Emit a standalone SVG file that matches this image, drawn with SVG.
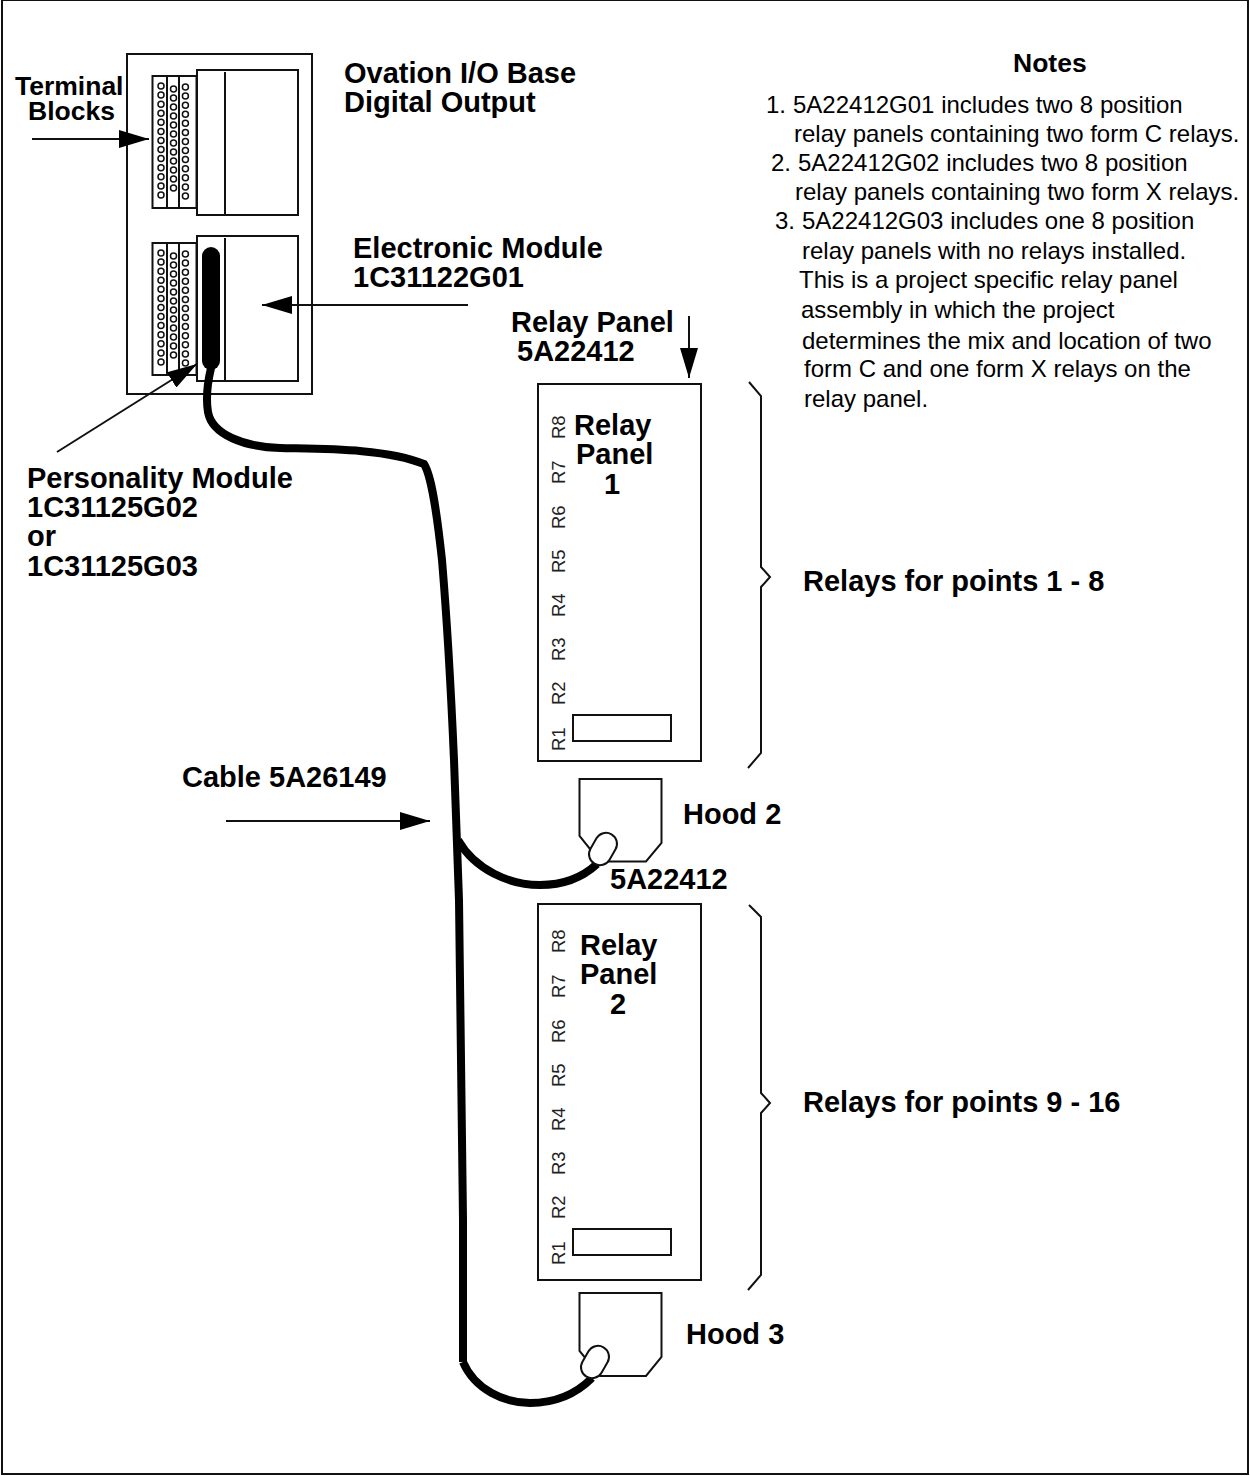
<svg xmlns="http://www.w3.org/2000/svg" width="1250" height="1476" viewBox="0 0 1250 1476">
<style>
.b{font:bold 29px "Liberation Sans",Arial,sans-serif;fill:#000}
.k{font:bold 26.500px "Liberation Sans",Arial,sans-serif;fill:#000}
.n{font:24px "Liberation Sans",Arial,sans-serif;fill:#000}
.r{font:18.500px "Liberation Sans",Arial,sans-serif;fill:#222}
.s{fill:#fff;stroke:#111;stroke-width:2}
.l{fill:none;stroke:#111;stroke-width:2}
.c{fill:none;stroke:#000;stroke-width:8}
.t{fill:none;stroke:#111;stroke-width:1.500}
</style>
<defs>
<marker id="a" markerUnits="userSpaceOnUse" markerWidth="30" markerHeight="18" refX="30" refY="9" orient="auto"><path d="M0 0L30 9L0 18z" fill="#000"/></marker>
<g id="holes">
<rect class="s" x="152.500" y="0" width="44" height="132"/>
<path class="l" d="M167 0V132M179 0V132"/>
<g class="t">
<circle cx="161" cy="10" r="3"/><circle cx="161" cy="19" r="3"/><circle cx="161" cy="28.200" r="3"/><circle cx="161" cy="37.300" r="3"/><circle cx="161" cy="46.300" r="3"/><circle cx="161" cy="55.400" r="3"/><circle cx="161" cy="64.500" r="3"/><circle cx="161" cy="73.600" r="3"/><circle cx="161" cy="82.600" r="3"/><circle cx="161" cy="91.700" r="3"/><circle cx="161" cy="100.800" r="3"/><circle cx="161" cy="109.900" r="3"/><circle cx="161" cy="119" r="3"/>
<circle cx="173.500" cy="13" r="3"/><circle cx="173.500" cy="22" r="3"/><circle cx="173.500" cy="31" r="3"/><circle cx="173.500" cy="40" r="3"/><circle cx="173.500" cy="49" r="3"/><circle cx="173.500" cy="58" r="3"/><circle cx="173.500" cy="67" r="3"/><circle cx="173.500" cy="76" r="3"/><circle cx="173.500" cy="85" r="3"/><circle cx="173.500" cy="94" r="3"/><circle cx="173.500" cy="103" r="3"/><circle cx="173.500" cy="112" r="3"/>
<circle cx="185.400" cy="11" r="3"/><circle cx="185.400" cy="20" r="3"/><circle cx="185.400" cy="29.200" r="3"/><circle cx="185.400" cy="38.300" r="3"/><circle cx="185.400" cy="47.300" r="3"/><circle cx="185.400" cy="56.400" r="3"/><circle cx="185.400" cy="65.500" r="3"/><circle cx="185.400" cy="74.600" r="3"/><circle cx="185.400" cy="83.600" r="3"/><circle cx="185.400" cy="92.700" r="3"/><circle cx="185.400" cy="101.800" r="3"/><circle cx="185.400" cy="110.900" r="3"/><circle cx="185.400" cy="120" r="3"/>
</g>
</g>
<g id="labels">
<text class="r" transform="translate(565,751) rotate(-90)">R1</text>
<text class="r" transform="translate(565,705) rotate(-90)">R2</text>
<text class="r" transform="translate(565,661) rotate(-90)">R3</text>
<text class="r" transform="translate(565,617) rotate(-90)">R4</text>
<text class="r" transform="translate(565,573) rotate(-90)">R5</text>
<text class="r" transform="translate(565,529) rotate(-90)">R6</text>
<text class="r" transform="translate(565,484) rotate(-90)">R7</text>
<text class="r" transform="translate(565,439) rotate(-90)">R8</text>
</g>
</defs>
<rect width="1250" height="1476" fill="#fff"/>
<rect id="frame" class="l" x="2" y="0" width="1246" height="1474"/>
<g id="base">
<rect class="s" x="127" y="54" width="185" height="340"/>
<use href="#holes" y="76"/>
<use href="#holes" y="243"/>
<rect class="s" x="197" y="70" width="101" height="145"/>
<path class="l" d="M225 72V215"/>
<rect class="s" x="197" y="236" width="101" height="145"/>
<path class="l" d="M225 238V381"/>
</g>
<g id="panel1">
<rect class="s" x="538" y="384" width="163" height="377"/>
<rect class="s" x="573" y="715" width="98" height="26"/>
<use href="#labels"/>
</g>
<g id="panel2">
<rect class="s" x="538" y="904" width="163" height="376"/>
<rect class="s" x="573" y="1229" width="98" height="26"/>
<use href="#labels" y="514"/>
</g>
<g id="connectors">
<rect x="202" y="247" width="18" height="123" rx="9" fill="#000"/>
<path class="c" d="M211 368C207 385 206 400 208 412C212 435 245 447 280 448C320 449 385 448 424 464C431 475 436 505 442 560C447 620 451 690 454 760L459 900L463 1220V1362"/>
<path class="c" d="M458 840C475 870 510 885 540 885C565 885 583 877 597 864"/>
<path class="c" d="M463 1362C475 1390 505 1403 530 1403C555 1403 575 1395 592 1378"/>
<path class="l" marker-end="url(#a)" d="M32 139H149"/>
<path class="l" marker-end="url(#a)" d="M468 305H262"/>
<path class="l" marker-end="url(#a)" d="M57 452L197 364"/>
<path class="l" marker-end="url(#a)" d="M689 316V378"/>
<path class="l" marker-end="url(#a)" d="M226 821H430"/>
<path class="l" d="M749 382L761 396V567L770 577L761 587V753L748 768"/>
<path class="l" d="M749 905L761 917V1093L770 1103L761 1113V1275L748 1290"/>
</g>
<g id="hood2">
<path class="s" d="M579.500 779H661.500V843L646 861.500H600L579.500 836z"/>
<rect class="s" x="-17" y="-11" width="34" height="22" rx="11" transform="translate(603,849) rotate(-60)"/>
</g>
<g id="hood3">
<path class="s" d="M579.500 1293H661.500V1357L646 1376H600L579.500 1351z"/>
<rect class="s" x="-17" y="-11" width="34" height="22" rx="11" transform="translate(595,1362) rotate(-60)"/>
</g>
<g id="text">
<text class="k" x="15" y="95">Terminal</text>
<text class="k" x="28" y="120">Blocks</text>
<text class="b" x="344" y="83">Ovation I/O Base</text>
<text class="b" x="344" y="112">Digital Output</text>
<text class="b" x="353" y="258">Electronic Module</text>
<text class="b" x="353" y="287">1C31122G01</text>
<text class="b" x="511" y="332">Relay Panel</text>
<text class="b" x="517" y="361">5A22412</text>
<text class="b" x="27" y="488">Personality Module</text>
<text class="b" x="27" y="517">1C31125G02</text>
<text class="b" x="27" y="546">or</text>
<text class="b" x="27" y="576">1C31125G03</text>
<text class="b" x="574" y="435">Relay</text>
<text class="b" x="576" y="464">Panel</text>
<text class="b" x="604" y="494">1</text>
<text class="b" x="580" y="955">Relay</text>
<text class="b" x="580" y="984">Panel</text>
<text class="b" x="610" y="1014">2</text>
<text class="b" x="803" y="591">Relays for points 1 - 8</text>
<text class="b" x="803" y="1112">Relays for points 9 - 16</text>
<text class="b" x="182" y="787">Cable 5A26149</text>
<text class="b" x="683" y="824">Hood 2</text>
<text class="b" x="610" y="889">5A22412</text>
<text class="b" x="686" y="1344">Hood 3</text>
<text class="k" x="1013" y="72">Notes</text>
<text class="n" x="766" y="113">1.<tspan x="793">5A22412G01 includes two 8 position</tspan></text>
<text class="n" x="794" y="142">relay panels containing two form C relays.</text>
<text class="n" x="771" y="171">2.<tspan x="798">5A22412G02 includes two 8 position</tspan></text>
<text class="n" x="795" y="200">relay panels containing two form X relays.</text>
<text class="n" x="775" y="229">3.<tspan x="802">5A22412G03 includes one 8 position</tspan></text>
<text class="n" x="802" y="259">relay panels with no relays installed.</text>
<text class="n" x="799" y="288">This is a project specific relay panel</text>
<text class="n" x="801" y="318">assembly in which the project</text>
<text class="n" x="802" y="349">determines the mix and location of two</text>
<text class="n" x="804" y="377">form C and one form X relays on the</text>
<text class="n" x="804" y="407">relay panel.</text>
</g>
</svg>
